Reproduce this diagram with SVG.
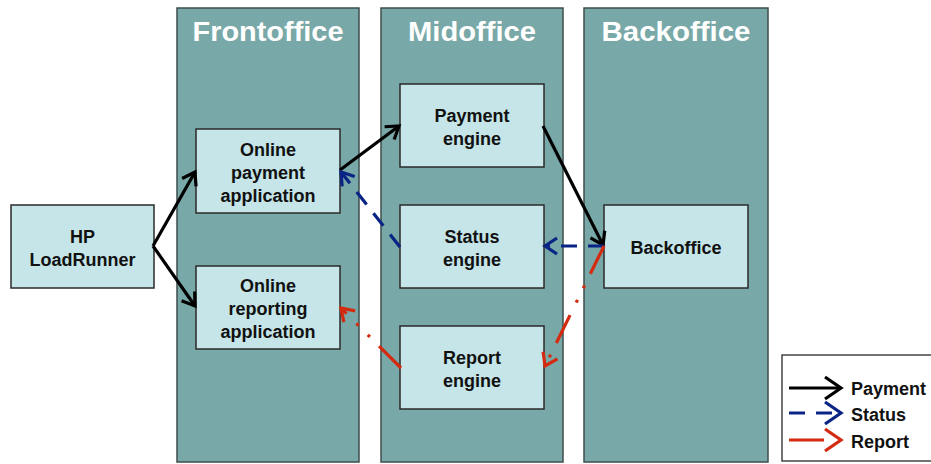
<svg xmlns="http://www.w3.org/2000/svg" width="931" height="464" viewBox="0 0 931 464">
<style>
.col{fill:#78a8a7;stroke:#3e4e4e;stroke-width:1.5}
.title{font-family:"Liberation Sans",Arial,sans-serif;font-weight:bold;font-size:28px;fill:#ffffff;text-anchor:middle}
.node{fill:#c5e5e8;stroke:#2a2a2a;stroke-width:1.5}
.lbl{font-family:"Liberation Sans",Arial,sans-serif;font-weight:bold;font-size:18px;fill:#111111;text-anchor:middle}
.leg{font-family:"Liberation Sans",Arial,sans-serif;font-weight:bold;font-size:18px;fill:#111111}
.pay{stroke:#000000;stroke-width:3.2;fill:none;marker-end:url(#mBlack)}
.sta{stroke:#0a2485;stroke-width:3.2;fill:none;stroke-dasharray:16 11;marker-end:url(#mBlue)}
.rep{stroke:#d42a10;stroke-width:3.2;fill:none;stroke-dasharray:31 13 3 13 3 14;marker-end:url(#mRed)}
.lpay{stroke:#000000;stroke-width:3.2;fill:none;marker-end:url(#lBlack)}
.lsta{stroke:#0a2485;stroke-width:3.2;fill:none;stroke-dasharray:16 11;marker-end:url(#lBlue)}
.lrep{stroke:#d42a10;stroke-width:3.2;fill:none;stroke-dasharray:35 100;marker-end:url(#lRed)}
</style>
<defs>
<marker id="mBlack" markerUnits="userSpaceOnUse" markerWidth="30" markerHeight="30" viewBox="-15 -15 30 30" refX="0" refY="0" orient="auto" overflow="visible">
<path d="M-12,-8 L0,0 L-12,8" fill="none" stroke="#000000" stroke-width="3.2"/>
</marker>
<marker id="mBlue" markerUnits="userSpaceOnUse" markerWidth="30" markerHeight="30" viewBox="-15 -15 30 30" refX="0" refY="0" orient="auto" overflow="visible">
<path d="M-12,-8 L0,0 L-12,8" fill="none" stroke="#0a2485" stroke-width="3.2"/>
</marker>
<marker id="mRed" markerUnits="userSpaceOnUse" markerWidth="30" markerHeight="30" viewBox="-15 -15 30 30" refX="0" refY="0" orient="auto" overflow="visible">
<path d="M-12,-8 L0,0 L-12,8" fill="none" stroke="#d42a10" stroke-width="3.2"/>
</marker>
<marker id="lBlack" markerUnits="userSpaceOnUse" markerWidth="40" markerHeight="40" viewBox="-20 -20 40 40" refX="0" refY="0" orient="auto" overflow="visible">
<path d="M-16,-11 L0,0 L-16,11" fill="none" stroke="#000000" stroke-width="3.2"/>
</marker>
<marker id="lBlue" markerUnits="userSpaceOnUse" markerWidth="40" markerHeight="40" viewBox="-20 -20 40 40" refX="0" refY="0" orient="auto" overflow="visible">
<path d="M-16,-11 L0,0 L-16,11" fill="none" stroke="#0a2485" stroke-width="3.2"/>
</marker>
<marker id="lRed" markerUnits="userSpaceOnUse" markerWidth="40" markerHeight="40" viewBox="-20 -20 40 40" refX="0" refY="0" orient="auto" overflow="visible">
<path d="M-16,-11 L0,0 L-16,11" fill="none" stroke="#d42a10" stroke-width="3.2"/>
</marker>
</defs>
<rect width="931" height="464" fill="#ffffff"/>
<g id="col-frontoffice">
<rect class="col" x="177" y="8" width="182" height="454"/>
<text class="title" x="268" y="41" textLength="151" lengthAdjust="spacingAndGlyphs">Frontoffice</text>
</g>
<g id="col-midoffice">
<rect class="col" x="381" y="8" width="182" height="454"/>
<text class="title" x="472" y="41" textLength="128" lengthAdjust="spacingAndGlyphs">Midoffice</text>
</g>
<g id="col-backoffice">
<rect class="col" x="584" y="8" width="184" height="454"/>
<text class="title" x="676" y="41" textLength="149" lengthAdjust="spacingAndGlyphs">Backoffice</text>
</g>
<g id="node-loadrunner">
<rect class="node" x="11" y="205" width="143" height="83"/>
<text class="lbl" x="82.5" y="243">HP</text>
<text class="lbl" x="82.5" y="266">LoadRunner</text>
</g>
<g id="node-online-payment">
<rect class="node" x="196" y="129" width="144" height="84"/>
<text class="lbl" x="268" y="156">Online</text>
<text class="lbl" x="268" y="179">payment</text>
<text class="lbl" x="268" y="202">application</text>
</g>
<g id="node-online-reporting">
<rect class="node" x="196" y="266" width="144" height="83"/>
<text class="lbl" x="268" y="292">Online</text>
<text class="lbl" x="268" y="315">reporting</text>
<text class="lbl" x="268" y="338">application</text>
</g>
<g id="node-payment-engine">
<rect class="node" x="400" y="84" width="144" height="83"/>
<text class="lbl" x="472" y="122">Payment</text>
<text class="lbl" x="472" y="145">engine</text>
</g>
<g id="node-status-engine">
<rect class="node" x="400" y="205" width="144" height="83"/>
<text class="lbl" x="472" y="243">Status</text>
<text class="lbl" x="472" y="266">engine</text>
</g>
<g id="node-report-engine">
<rect class="node" x="400" y="326" width="144" height="83"/>
<text class="lbl" x="472" y="364">Report</text>
<text class="lbl" x="472" y="387">engine</text>
</g>
<g id="node-backoffice">
<rect class="node" x="604" y="205" width="144" height="83"/>
<text class="lbl" x="676" y="254">Backoffice</text>
</g>
<g id="connectors">
<line class="pay" x1="153" y1="246" x2="195" y2="172"/>
<line class="pay" x1="153" y1="246" x2="195" y2="306"/>
<line class="pay" x1="340" y1="170" x2="399" y2="126"/>
<line class="pay" x1="543" y1="126" x2="603" y2="245"/>
<line class="sta" x1="604" y1="246" x2="545" y2="246"/>
<line class="sta" x1="400" y1="247" x2="341" y2="172"/>
<line class="rep" x1="604" y1="246" x2="545" y2="366"/>
<line class="rep" x1="401" y1="368" x2="341" y2="308"/>
</g>
<g id="legend">
<rect x="782" y="355" width="160" height="106" fill="#ffffff" stroke="#444444" stroke-width="1.5"/>
<line class="lpay" x1="789" y1="388" x2="841" y2="388"/>
<text class="leg" x="851" y="395">Payment</text>
<line class="lsta" x1="789" y1="413" x2="841" y2="413"/>
<text class="leg" x="851" y="421">Status</text>
<line class="lrep" x1="789" y1="440" x2="841" y2="440"/>
<text class="leg" x="851" y="448">Report</text>
</g>
</svg>
